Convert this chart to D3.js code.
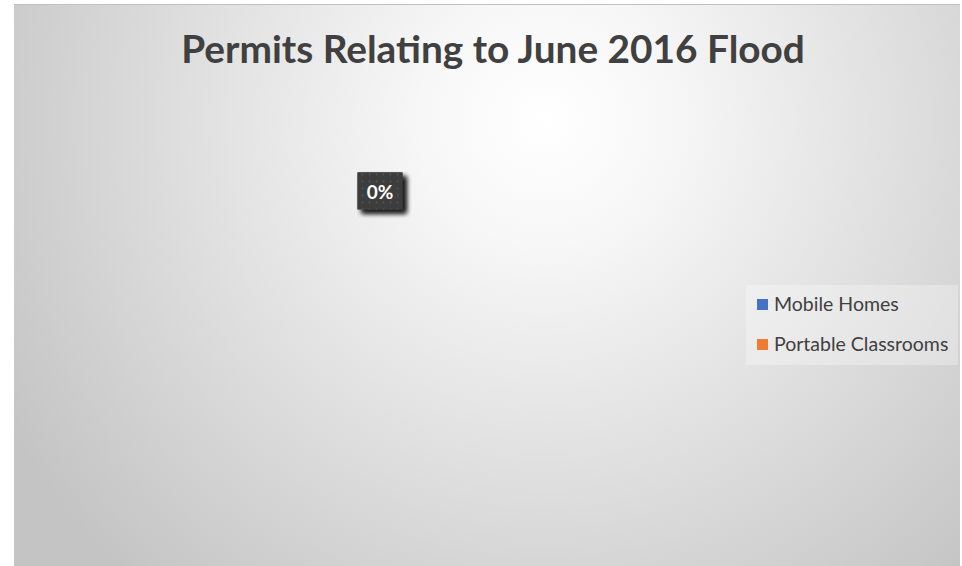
<!DOCTYPE html>
<html><head><meta charset="utf-8">
<script src="https://cdn.jsdelivr.net/npm/d3@7"></script>
<style>html,body{margin:0;padding:0;background:#fff;}svg{display:block;}</style>
</head><body>
<svg id="chart" width="962" height="566"></svg>
<script>
const title = "Permits Relating to June 2016 Flood";
const categories = ["Mobile Homes", "Portable Classrooms"];
const values = [0, 0];
const colors = ["#4472C4", "#ED7D31"];

const svg = d3.select("#chart");
const defs = svg.append("defs");

const grad = defs.append("radialGradient").attr("id", "bg")
  .attr("gradientUnits", "userSpaceOnUse")
  .attr("cx", 545).attr("cy", 120).attr("r", 620);
grad.append("stop").attr("offset", "0").attr("stop-color", "#ffffff");
grad.append("stop").attr("offset", "0.2").attr("stop-color", "#f7f7f7");
grad.append("stop").attr("offset", "1").attr("stop-color", "#c4c4c4");

const pat = defs.append("pattern").attr("id", "dots")
  .attr("patternUnits", "userSpaceOnUse").attr("width", 7).attr("height", 7);
pat.append("rect").attr("width", 7).attr("height", 7).attr("fill", "#3c3c3c");
pat.append("circle").attr("cx", 3.5).attr("cy", 3.5).attr("r", 1).attr("fill", "#555");

const sh = defs.append("filter").attr("id", "shadow").attr("x", "-50%").attr("y", "-50%").attr("width", "200%").attr("height", "200%");
sh.append("feGaussianBlur").attr("in", "SourceAlpha").attr("stdDeviation", 2.5).attr("result", "b");
sh.append("feOffset").attr("in", "b").attr("dx", 4).attr("dy", 4).attr("result", "o");
sh.append("feComponentTransfer").attr("in", "o").attr("result", "o2")
  .append("feFuncA").attr("type", "linear").attr("slope", 0.7);
const mg = sh.append("feMerge");
mg.append("feMergeNode").attr("in", "o2");
mg.append("feMergeNode").attr("in", "SourceGraphic");

// chart area
svg.append("rect").attr("x", 14).attr("y", 4).attr("width", 946).attr("height", 570)
  .attr("fill", "url(#bg)");
svg.append("line").attr("x1", 14).attr("x2", 960).attr("y1", 4.5).attr("y2", 4.5)
  .attr("stroke", "#c0c0c0").attr("stroke-width", 1);

// title
const t = svg.append("text").text(title)
  .attr("x", 493).attr("y", 63).attr("text-anchor", "middle")
  .attr("font-family", "Lato, 'Open Sans', sans-serif").attr("font-weight", "bold")
  .attr("font-size", 36).attr("fill", "#404040");
const tw = t.node().getComputedTextLength();
t.attr("font-size", 36 * 624 / tw);

// pie
const cx = 380, cy = 320, R = 230;
const total = d3.sum(values);
const pie = d3.pie().sort(null).value(d => d);
const arcs = pie(values);
const arc = d3.arc().innerRadius(0).outerRadius(R);
const labelArc = d3.arc().innerRadius(R * 0.557).outerRadius(R * 0.557);
const g = svg.append("g").attr("transform", `translate(${cx},${cy})`);
g.selectAll("path").data(arcs).join("path")
  .attr("d", arc).attr("fill", (d, i) => colors[i]).attr("stroke", "none");

const fmt = d3.format(".0%");
const lab = g.selectAll("g.lab").data(arcs).join("g").attr("class", "lab")
  .attr("transform", d => `translate(${labelArc.centroid(d)})`);
lab.append("rect").attr("x", -22.5).attr("y", -19.5).attr("width", 45).attr("height", 37)
  .attr("fill", "url(#dots)").attr("filter", "url(#shadow)");
lab.append("text").text(d => fmt(total ? d.value / total : 0))
  .attr("text-anchor", "middle").attr("y", 7)
  .attr("font-family", "Lato, 'Open Sans', sans-serif").attr("font-weight", "bold")
  .attr("font-size", 19).attr("fill", "#ffffff");

// legend
svg.append("rect").attr("x", 746).attr("y", 285).attr("width", 212).attr("height", 80)
  .attr("fill", "#ffffff").attr("fill-opacity", 0.3);
const leg = svg.selectAll("g.leg").data(categories).join("g").attr("class", "leg")
  .attr("transform", (d, i) => `translate(757,${299 + i * 40})`);
leg.append("rect").attr("width", 11).attr("height", 11).attr("fill", (d, i) => colors[i]);
leg.append("text").text(d => d).attr("x", 17).attr("y", 12)
  .attr("font-family", "Lato, 'Open Sans', sans-serif").attr("font-size", 19.5).attr("fill", "#404040");
</script>
</body></html>
